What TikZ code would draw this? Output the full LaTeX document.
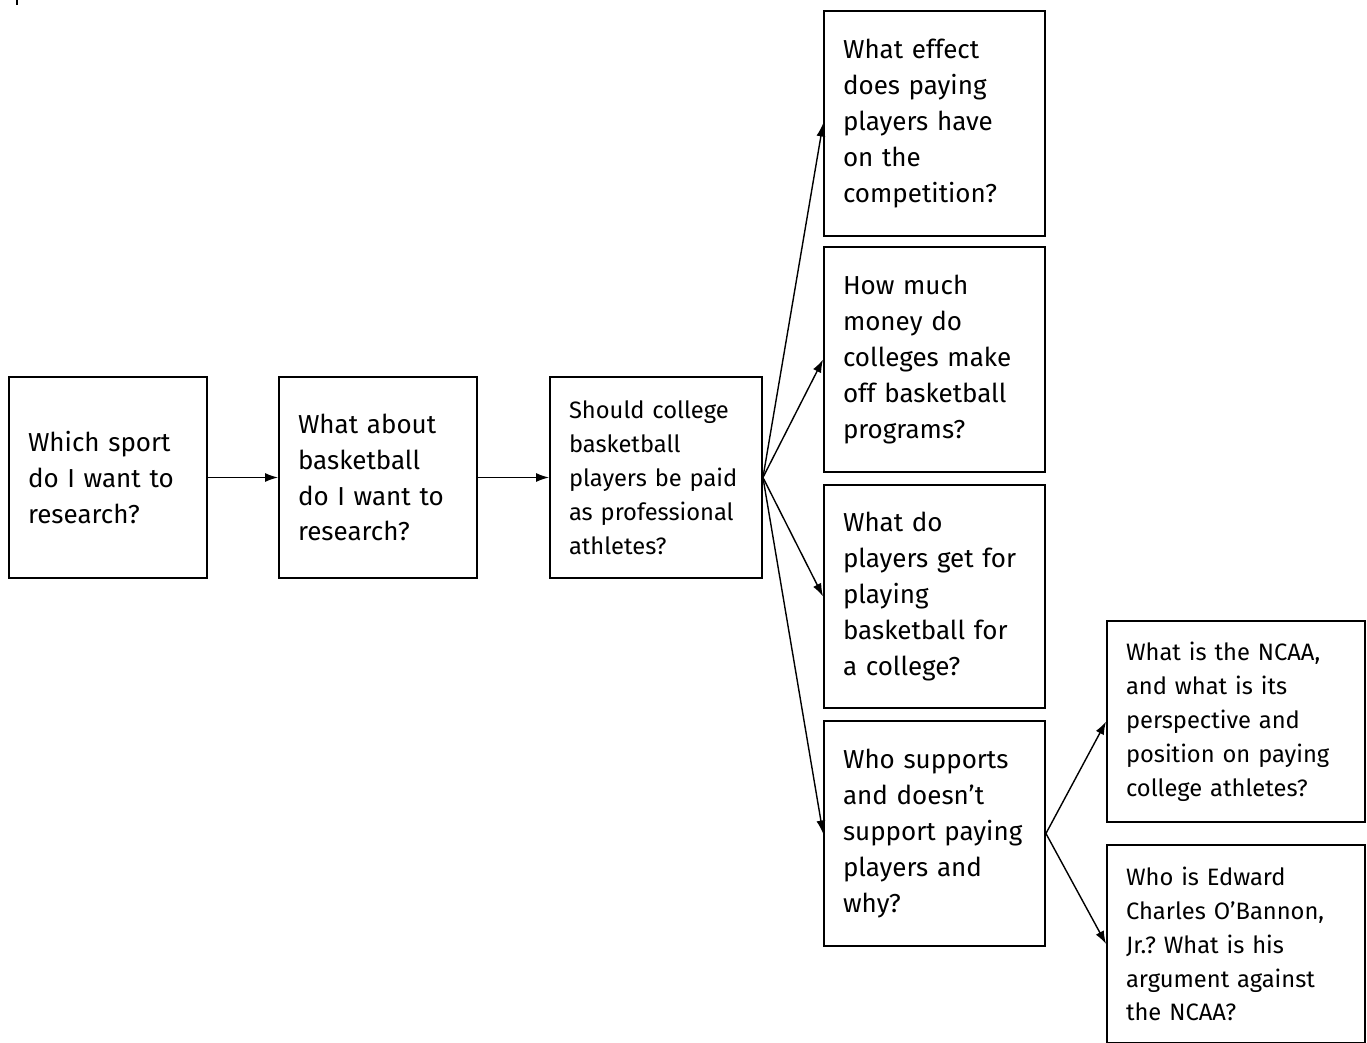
\documentclass[tikz,border=0pt]{standalone}
\usepackage{fontspec}
\setmainfont{Fira Sans}
\usepackage{tikz}
\usetikzlibrary{arrows.meta}
\frenchspacing

\begin{document}
\begin{tikzpicture} [x=0.02cm,y=-0.02cm,
    qbox/.style={draw,line width=1.1pt,align=left,inner xsep=0.38cm,inner ysep=0pt,
      font=\fontsize{14.8pt}{20.4pt}\selectfont},
    qsmall/.style={qbox,font=\fontsize{13.5pt}{19.3pt}\selectfont},
    arr/.style={line width=0.8pt,-{Latex[length=2.6mm,width=1.8mm]}}]
    \useasboundingbox (0,0) rectangle (1367,1043);
    \draw[line width=1pt] (17,0) -- (17,5);

    % first row
    \node[qbox,text width=3.2cm,minimum height=4.02cm] (sport) at (108,477.5)
      {Which sport\\do I want to\\research?};
    \node[qbox,text width=3.2cm,minimum height=4.02cm] (bball) at (378,477.5)
      {What about\\basketball\\do I want to\\research?};
    \node[qsmall,text width=3.48cm,minimum height=4.02cm] (paid) at (656,477.5)
      {Should college\\basketball\\players be paid\\as professional\\athletes?};

    % sub questions
    \node[qbox,text width=3.66cm,minimum height=4.5cm] (effect) at (934.5,123.5)
      {What effect\\does paying\\players have\\on the\\competition?};
    \node[qbox,text width=3.66cm,minimum height=4.5cm] (money) at (934.5,359.5)
      {How much\\money do\\colleges make\\off basketball\\programs?};
    \node[qbox,text width=3.66cm,minimum height=4.46cm] (get) at (934.5,596.5)
      {What do\\players get for\\playing\\basketball for\\a college?};
    \node[qbox,text width=3.66cm,minimum height=4.5cm] (who) at (934.5,833.5)
      {Who supports\\and doesn’t\\support paying\\players and\\why?};

    \node[qsmall,text width=4.4cm,minimum height=4.02cm] (ncaa) at (1236,721.5)
      {What is the NCAA,\\and what is its\\perspective and\\position on paying\\college athletes?};
    \node[qsmall,text width=4.4cm,minimum height=3.96cm] (obannon) at (1236,944)
      {Who is Edward\\Charles O’Bannon,\\Jr.? What is his\\argument against\\the NCAA?};

    \draw[arr] (sport.east) -- (bball.west);
    \draw[arr] (bball.east) -- (paid.west);
    \draw[arr] (paid.east) -- (effect.west);
    \draw[arr] (paid.east) -- (money.west);
    \draw[arr] (paid.east) -- (get.west);
    \draw[arr] (paid.east) -- (who.west);
    \draw[arr] (who.east) -- (ncaa.west);
    \draw[arr] (who.east) -- (obannon.west);
\end{tikzpicture}
\end{document}
